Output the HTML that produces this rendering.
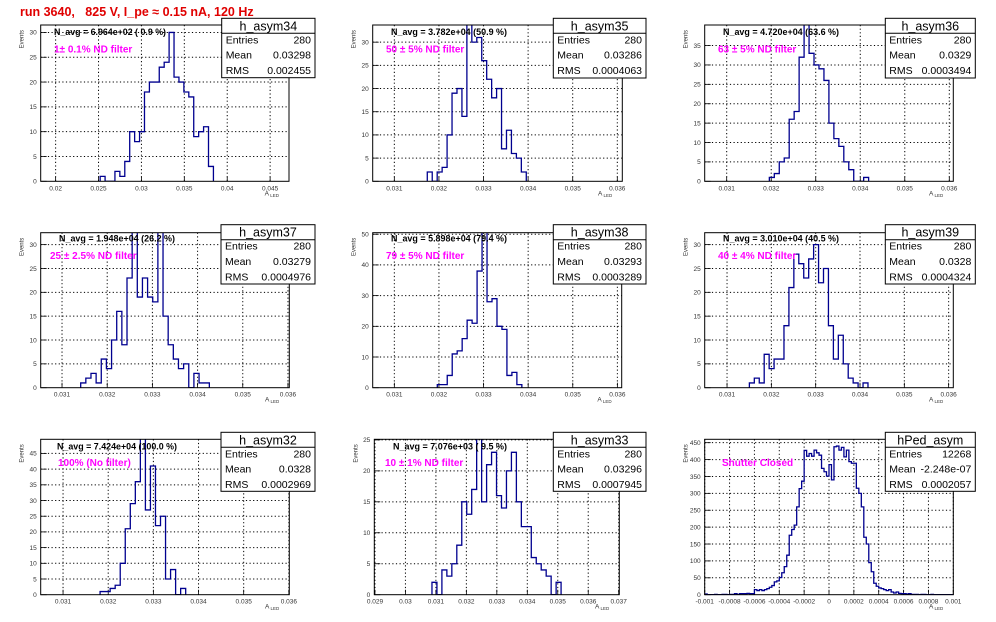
<!DOCTYPE html>
<html><head><meta charset="utf-8"><style>
html,body{margin:0;padding:0;background:#fff;}
svg{display:block;font-family:"Liberation Sans",sans-serif;}
</style></head><body>
<svg id="c" width="996" height="622" viewBox="0 0 996 622">
<text x="20" y="16" fill="#e00000" font-weight="bold" font-size="12.5" style="white-space:pre" xml:space="preserve">run 3640,   825 V, I_pe ≈ 0.15 nA, 120 Hz</text>
</svg>
<script>
// ---- data (counts per bin) ----
const vals34=[1,0,0,2,1,4,10,8,10,18,20,20,23,24,30,21,20,18,17,9,10,11,3];
const vals35=[2,0,2,3,10,19,20,14,36,30,31,26,22,18,20,7,11,6,5,2];
const vals36=[1,2,5,6,16,18,32,45,33,30,29,26,15,11,9,5,3,0,0,1];
const vals37=[1,2,3,1,6,4,10,16,9,23,33,19,23,19,18,33,15,9,6,4,5,0,3,1,1];
const vals38=[1,1,4,11,12,16,22,21,38,52,28,29,20,19,4,5,1];
const vals39=[1,2,1,7,4,6,6,13,21,28,26,23,27,30,22,25,13,6,11,5,2,1,0,1];
const vals32=[1,1,2,3,10,21,29,36,50,27,41,22,25,5,8,0,2];
const vals33=[2,0,4,3,5,8,15,13,17,27,15,21,23,16,14,20,23,15,11,11,6,5,4,3,0,2];
const valsPed=[2,0,0,0,1,0,0,1,1,0,1,1,3,1,3,3,3,4,3,3,15,12,15,12,15,18,22,27,38,41,51,65,83,117,176,193,206,260,314,336,427,410,418,410,428,420,413,374,364,351,385,340,438,440,428,436,408,428,394,389,389,315,300,260,170,150,95,68,34,25,20,18,15,12,15,8,5,8,4,3,3,2,3,1,1,1,0,1,1,0,0,1,0,0,0,0,0,0,0,0];
// bin start / width (x units)
const binStart=[0.02519,0.031739,0.031958,0.031413,0.031963,0.031504,0.03182,0.030871,-0.001];
const binWidth=[0.000574,0.000111,0.0001115,0.0001139,0.0001115,0.0001115,0.0001115,0.000163,0.00002];
// tick labels
const xt1=["0.02","0.025","0.03","0.035","0.04","0.045"];
const xtA=["0.031","0.032","0.033","0.034","0.035","0.036"];
const xt8=["0.029","0.03","0.031","0.032","0.033","0.034","0.035","0.036","0.037"];
const xt9=["-0.001","-0.0008","-0.0006","-0.0004","-0.0002","0","0.0002","0.0004","0.0006","0.0008","0.001"];
const yt30=["0","5","10","15","20","25","30"];
const yt35=["0","5","10","15","20","25","30","35"];
const yt45=["0","5","10","15","20","25","30","35","40","45"];
const yt50=["0","10","20","30","40","50"];
const yt25=["0","5","10","15","20","25"];
const yt450=["0","50","100","150","200","250","300","350","400","450"];
// stats
const titles=["h_asym34","h_asym35","h_asym36","h_asym37","h_asym38","h_asym39","h_asym32","h_asym33","hPed_asym"];
const entries=["280","280","280","280","280","280","280","280","12268"];
const means=["0.03298","0.03286","0.0329","0.03279","0.03293","0.0328","0.0328","0.03296","-2.248e-07"];
const rmss=["0.002455","0.0004063","0.0003494","0.0004976","0.0003289","0.0004324","0.0002969","0.0007945","0.0002057"];
const navgs=["N_avg = 6.964e+02 ( 0.9 %)","N_avg = 3.782e+04 (50.9 %)","N_avg = 4.720e+04 (63.6 %)","N_avg = 1.948e+04 (26.2 %)","N_avg = 5.898e+04 (79.4 %)","N_avg = 3.010e+04 (40.5 %)","N_avg = 7.424e+04 (100.0 %)","N_avg = 7.076e+03 ( 9.5 %)",""];
const filters=["1± 0.1% ND filter","50 ± 5% ND filter","63 ± 5% ND filter","25 ± 2.5% ND filter","79 ± 5% ND filter","40 ± 4% ND filter","100% (No filter)","10 ± 1% ND filter","Shutter Closed"];

// ---- layout ----
const pads=[
 {l:40.7,t:25,r:289,b:181.3,xmin:0.01826,xmax:0.0472,ymax:31.5,xt:xt1,yt:yt30,v:vals34,sb:[221.7,18.3,315,77.7],nx:54,ny:35,fx:54,fy:52.5,nw:112},
 {l:372.7,t:25,r:622.3,b:181.3,xmin:0.030515,xmax:0.036112,ymax:33.7,xt:xtA,yt:yt30,v:vals35,sb:[553.3,18.3,646,78],nx:391,ny:35,fx:386,fy:52.5,nw:116},
 {l:704.7,t:25,r:953.3,b:181.3,xmin:0.030506,xmax:0.03609,ymax:40.3,xt:xtA,yt:yt35,v:vals36,sb:[885.3,18.3,975.3,78],nx:723,ny:35,fx:718,fy:52.5,nw:116},
 {l:40.7,t:232.7,r:289.3,b:387.7,xmin:0.030528,xmax:0.03603,ymax:32.5,xt:xtA,yt:yt30,v:vals37,sb:[221,224.7,315,284],nx:59,ny:241.5,fx:50,fy:259,nw:116},
 {l:372.7,t:232.7,r:621.7,b:387.7,xmin:0.030515,xmax:0.036097,ymax:50.5,xt:xtA,yt:yt50,v:vals38,sb:[553.3,224.7,646,284],nx:391,ny:241.5,fx:386,fy:259,nw:116},
 {l:704.7,t:232.7,r:953.3,b:387.7,xmin:0.030496,xmax:0.036105,ymax:32.5,xt:xtA,yt:yt30,v:vals39,sb:[885.3,224.7,975.3,284],nx:723,ny:241.5,fx:718,fy:259,nw:116},
 {l:40.7,t:439.3,r:289.3,b:594.7,xmin:0.030505,xmax:0.03601,ymax:49.5,xt:xtA,yt:yt45,v:vals32,sb:[221,432.3,315,491.3],nx:57,ny:449.5,fx:58,fy:466,nw:120},
 {l:374.3,t:439.3,r:619.3,b:594.7,xmin:0.028978,xmax:0.03702,ymax:25.1,xt:xt8,yt:yt25,v:vals33,sb:[553.3,432.3,646,491.3],nx:393,ny:449.5,fx:385,fy:466,nw:114},
 {l:704.7,t:439.3,r:953.3,b:594.7,xmin:-0.001,xmax:0.001,ymax:460,xt:xt9,yt:yt450,v:valsPed,sb:[885.3,432.3,975.3,491.3],nx:0,ny:0,fx:722,fy:466,nw:0}
];

const NS="http://www.w3.org/2000/svg";
const svg=document.getElementById('c');
function mk(tag,attrs,parent){const e=document.createElementNS(NS,tag);for(const k in attrs)e.setAttribute(k,attrs[k]);(parent||svg).appendChild(e);return e;}

pads.forEach((p,i)=>{
  const g=mk('g',{});
  
  
  const xs=v=>p.l+(v-p.xmin)/(p.xmax-p.xmin)*(p.r-p.l);
  const ys=v=>p.b-v/p.ymax*(p.b-p.t);
  p.xt.forEach(t=>{const x=xs(parseFloat(t));
    const gl=mk('line',{x1:x,x2:x,y1:p.t,y2:p.b,stroke:'#000','stroke-width':1,'stroke-dasharray':'1.2,2.4'},g);
    
    
    mk('line',{x1:x,x2:x,y1:p.b,y2:p.b-5,stroke:'#000','stroke-width':0.8},g);
    const tl=mk('text',{x:x,y:p.b+9,'font-size':6.5,fill:'#333','text-anchor':'middle'},g);tl.textContent=t;
    
    
  });
  p.yt.forEach(t=>{const y=ys(parseFloat(t));
    if(parseFloat(t)>0){const gl=mk('line',{x1:p.l,x2:p.r,y1:y,y2:y,stroke:'#000','stroke-width':1,'stroke-dasharray':'1.2,2.4'},g);
    
    }
    mk('line',{x1:p.l,x2:p.l+6,y1:y,y2:y,stroke:'#000','stroke-width':0.8},g);
    const tl=mk('text',{x:p.l-4,y:y+2.3,'font-size':6.5,fill:'#333','text-anchor':'end'},g);tl.textContent=t;
    
    
  });
  const cid='clip'+i;
  const cp=mk('clipPath',{id:cid},g);mk('rect',{x:p.l,y:p.t,width:p.r-p.l,height:p.b-p.t},cp);
  let d='M'+xs(binStart[i])+','+ys(0);
  p.v.forEach((v,k)=>{d+=' V'+ys(v)+' H'+xs(binStart[i]+(k+1)*binWidth[i]);});
  d+=' V'+ys(0);
  const h=mk('path',{d:d,fill:'none',stroke:'#00008f','stroke-width':1.3,'clip-path':'url(#'+cid+')'},g);
  
  
  const fr=mk('rect',{x:p.l,y:p.t,width:p.r-p.l,height:p.b-p.t,fill:'none',stroke:'#000','stroke-width':1},g);
  
  
  const ev=mk('text',{x:0,y:0,'font-size':6,fill:'#333','text-anchor':'end',transform:'translate('+(p.l-17)+','+(p.t+5)+') rotate(-90)'},g);ev.textContent='Events';
  
  
  const ax=mk('text',{x:p.r-10,y:p.b+14,'font-size':6.5,fill:'#333','text-anchor':'end'},g);
  ax.innerHTML='A<tspan font-size="4.5" dy="1.5"> LED</tspan>';
  
  
  if(navgs[i]){const n=mk('text',{x:p.nx,y:p.ny,'font-size':9,'font-weight':'bold',fill:'#000',textLength:p.nw,lengthAdjust:'spacingAndGlyphs'},g);n.textContent=navgs[i];
    
    }
  const f=mk('text',{x:p.fx,y:p.fy,'font-size':10,'font-weight':'bold',fill:'#ff00ff'},g);f.textContent=filters[i];
  
  
  const [bx,by,bx2,by2]=p.sb;const bw=bx2-bx,bh=by2-by;
  const sg=mk('g',{},g);
  
  
  mk('rect',{x:bx,y:by,width:bw,height:bh,fill:'#fff',stroke:'#000','stroke-width':1},sg);
  mk('line',{x1:bx,x2:bx2,y1:by+15,y2:by+15,stroke:'#000','stroke-width':1},sg);
  const tt=mk('text',{x:bx+bw/2,y:by+12,'font-size':12.5,'text-anchor':'middle',fill:'#000'},sg);tt.textContent=titles[i];
  
  
  [['Entries',entries[i]],['Mean',means[i]],['RMS',rmss[i]]].forEach((r,j)=>{
    const yy=by+25+j*15.3;
    const a=mk('text',{x:bx+4,y:yy,'font-size':10.5,fill:'#000'},sg);a.textContent=r[0];
    
    
    const b=mk('text',{x:bx2-4,y:yy,'font-size':10.5,fill:'#000','text-anchor':'end'},sg);b.textContent=r[1];
    
    
  });
});
</script>
</body></html>
